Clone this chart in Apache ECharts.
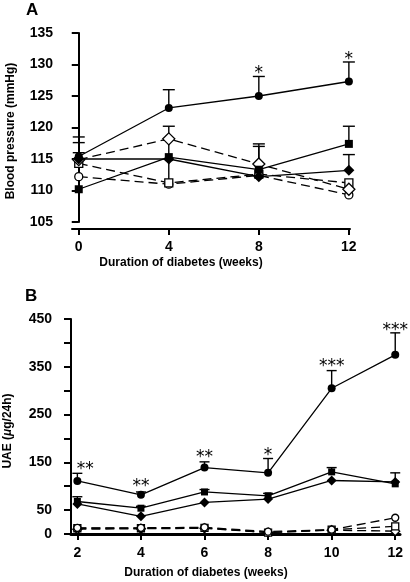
<!DOCTYPE html>
<html><head><meta charset="utf-8">
<script src="https://cdn.jsdelivr.net/npm/echarts@6/dist/echarts.min.js"></script>
<style>html,body{margin:0;padding:0;background:#fff}#c{width:410px;height:582px}</style>
</head><body><div id="c"></div>
<script>
// Panel A: blood pressure
const bpWeeks = [0, 4, 8, 12];
const bpTicks = [0, 4, 8, 12];
const bpFilledCircle = [115.4, 123.1, 125.0, 127.3];
const bpFilledCircleSE = [118.5, 126.0, 128.1, 130.4];
const bpFilledSquare = [110.2, 115.3, 113.3, 117.4];
const bpFilledSquareSE = [null, null, 117.0, 120.2];
const bpFilledDiamond = [115.0, 115.0, 112.2, 113.2];
const bpFilledDiamondSE = [116.0, null, null, 115.7];
const bpOpenDiamond = [114.9, 118.2, 114.2, 110.2];
const bpOpenDiamondSE = [117.6, 120.2, 117.4, null];
const bpOpenSquare = [114.3, 111.2, 112.6, 111.2];
const bpOpenSquareSE = [null, 118.0, null, null];
const bpOpenCircle = [112.2, 111.0, 112.4, 109.3];
const bpStarX = [8, 12];
const bpStarY = [129.4, 131.5];
const bpStarText = ['*', '*'];

// Panel B: UAE
const uaeWeeks = [2, 4, 6, 8, 10, 12];
const uaeTicks = [2, 4, 6, 8, 10, 12];
const uaeFilledCircle = [111, 82, 139, 128, 305, 375];
const uaeFilledCircleSE = [127, 88, 151, 158, 342, 421];
const uaeFilledSquare = [68, 54, 88, 80, 130, 105];
const uaeFilledSquareSE = [78, 58, 93, 85, 139, 128];
const uaeFilledDiamond = [63, 37, 66, 73, 112, 109];
const uaeOpenCircle = [13, 13, 14, 5, 9, 34];
const uaeOpenSquare = [12, 12, 13, 3, 9, 16];
const uaeOpenDiamond = [10, 11, 12, 3, 8, 6];
const uaeStarX = [2.25, 4, 6, 8, 10, 12];
const uaeStarY = [146, 109, 170, 174, 360, 437];
const uaeStarText = ['**', '**', '**', '*', '***', '***'];

const FONT = '"Liberation Sans", Arial, sans-serif';
const chart = echarts.init(document.getElementById('c'), null, {renderer: 'canvas'});

function pairs(xs, ys) { return xs.map((x, i) => [x, ys[i]]); }

function lineSeries(idx, xs, ys, symbol, size, filled, dashed) {
  return {
    type: 'line', xAxisIndex: idx, yAxisIndex: idx, data: pairs(xs, ys),
    symbol: symbol, symbolSize: size, showAllSymbol: true, z: filled ? 4 : 3,
    lineStyle: {color: '#000', width: 1.3, type: dashed ? [9, 5] : 'solid'},
    itemStyle: {color: filled ? '#000' : '#fff', borderColor: '#000', borderWidth: filled ? 0 : 1.3},
    animation: false
  };
}

function errSeries(idx, xs, means, tops, cap) {
  const data = [];
  xs.forEach((x, i) => { if (tops[i] != null) data.push([x, means[i], tops[i]]); });
  return {
    type: 'custom', xAxisIndex: idx, yAxisIndex: idx, data: data, z: 2,
    encode: {x: 0, y: [1, 2]}, animation: false,
    renderItem: function (params, api) {
      const p0 = api.coord([api.value(0), api.value(1)]);
      const p1 = api.coord([api.value(0), api.value(2)]);
      const st = {stroke: '#000', lineWidth: 1.4};
      return {type: 'group', children: [
        {type: 'line', shape: {x1: p0[0], y1: p0[1], x2: p1[0], y2: p1[1]}, style: st},
        {type: 'line', shape: {x1: p1[0] - cap, y1: p1[1], x2: p1[0] + cap, y2: p1[1]}, style: st}
      ]};
    }
  };
}

function starSeries(idx, xs, ys, texts) {
  return {
    type: 'custom', xAxisIndex: idx, yAxisIndex: idx, data: pairs(xs, ys), z: 5,
    animation: false,
    renderItem: function (params, api) {
      const p = api.coord([api.value(0), api.value(1)]);
      return {type: 'text', x: p[0], y: p[1] + 5, style: {
        text: texts[params.dataIndex], fill: '#000', font: '17px "DejaVu Sans", sans-serif',
        textAlign: 'center', textVerticalAlign: 'middle'}};
    }
  };
}

const axisLbl = {color: '#000', fontFamily: FONT, fontWeight: 'bold', fontSize: 14};

const option = {
  backgroundColor: '#fff',
  animation: false,
  grid: [
    {left: 72, top: 33, width: 278, height: 189},
    {left: 71, top: 319, width: 329, height: 215}
  ],
  xAxis: [
    {type: 'value', gridIndex: 0, min: -0.3, max: 12.05, offset: 7,
     axisLine: {lineStyle: {color: '#000', width: 2}},
     axisTick: {show: true, length: 6, lineStyle: {color: '#000', width: 2}, customValues: bpTicks},
     axisLabel: Object.assign({margin: 11, customValues: bpTicks}, axisLbl),
     splitLine: {show: false}},
    {type: 'value', gridIndex: 1, min: 1.8, max: 12.15,
     axisLine: {onZero: false, lineStyle: {color: '#000', width: 3}},
     axisTick: {show: true, length: 6, lineStyle: {color: '#000', width: 2}, customValues: uaeTicks},
     axisLabel: Object.assign({margin: 12, customValues: uaeTicks}, axisLbl),
     splitLine: {show: false}}
  ],
  yAxis: [
    {type: 'value', gridIndex: 0, min: 105, max: 135, interval: 5,
     axisLine: {show: true, lineStyle: {color: '#000', width: 2}},
     axisTick: {show: true, length: 7, lineStyle: {color: '#000', width: 2}},
     axisLabel: Object.assign({margin: 19}, axisLbl),
     splitLine: {show: false}},
    {type: 'value', gridIndex: 1, min: 0, max: 450, interval: 50,
     axisLine: {show: true, lineStyle: {color: '#000', width: 2}},
     axisTick: {show: true, length: 7, lineStyle: {color: '#000', width: 2}},
     axisLabel: Object.assign({margin: 19, formatter: v => ((v / 50) % 2 === 1 || v === 0) ? String(v) : ''}, axisLbl),
     splitLine: {show: false}}
  ],
  graphic: [
    {type: 'text', left: 26, top: 2, style: {text: 'A', font: 'bold 17px ' + FONT, fill: '#000'}},
    {type: 'text', left: 25, top: 288, style: {text: 'B', font: 'bold 17px ' + FONT, fill: '#000'}},
    {type: 'text', x: 181, y: 263, style: {text: 'Duration of diabetes (weeks)', font: 'bold 12px ' + FONT, fill: '#000', textAlign: 'center', textVerticalAlign: 'middle'}},
    {type: 'text', x: 206, y: 573, style: {text: 'Duration of diabetes (weeks)', font: 'bold 12px ' + FONT, fill: '#000', textAlign: 'center', textVerticalAlign: 'middle'}},
    {type: 'text', x: 11, y: 131, rotation: Math.PI / 2, style: {text: 'Blood pressure (mmHg)', font: 'bold 12px ' + FONT, fill: '#000', textAlign: 'center', textVerticalAlign: 'middle'}},
    {type: 'text', x: 8, y: 431, rotation: Math.PI / 2, style: {rich: {n: {font: 'bold 12px ' + FONT, fill: '#000'}, i: {font: 'italic bold 12px ' + FONT, fill: '#000'}}, text: '{n|UAE (}{i|μ}{n|g/24h)}', textAlign: 'center', textVerticalAlign: 'middle'}}
  ],
  series: [
    errSeries(0, bpWeeks, bpFilledCircle, bpFilledCircleSE, 6),
    errSeries(0, bpWeeks, bpFilledSquare, bpFilledSquareSE, 6),
    errSeries(0, bpWeeks, bpFilledDiamond, bpFilledDiamondSE, 6),
    errSeries(0, bpWeeks, bpOpenDiamond, bpOpenDiamondSE, 6),
    errSeries(0, bpWeeks, bpOpenSquare, bpOpenSquareSE, 6),
    lineSeries(0, bpWeeks, bpOpenCircle, 'circle', 8, false, true),
    lineSeries(0, bpWeeks, bpOpenSquare, 'rect', 8, false, true),
    lineSeries(0, bpWeeks, bpOpenDiamond, 'diamond', 12, false, true),
    lineSeries(0, bpWeeks, bpFilledDiamond, 'diamond', 11, true, false),
    lineSeries(0, bpWeeks, bpFilledSquare, 'rect', 8, true, false),
    lineSeries(0, bpWeeks, bpFilledCircle, 'circle', 8, true, false),
    starSeries(0, bpStarX, bpStarY, bpStarText),

    errSeries(1, uaeWeeks, uaeFilledCircle, uaeFilledCircleSE, 5),
    errSeries(1, uaeWeeks, uaeFilledSquare, uaeFilledSquareSE, 5),
    lineSeries(1, uaeWeeks, uaeOpenDiamond, 'diamond', 9, false, true),
    lineSeries(1, uaeWeeks, uaeOpenSquare, 'rect', 7, false, true),
    lineSeries(1, uaeWeeks, uaeOpenCircle, 'circle', 7, false, true),
    lineSeries(1, uaeWeeks, uaeFilledDiamond, 'diamond', 10, true, false),
    lineSeries(1, uaeWeeks, uaeFilledSquare, 'rect', 7, true, false),
    lineSeries(1, uaeWeeks, uaeFilledCircle, 'circle', 8, true, false),
    starSeries(1, uaeStarX, uaeStarY, uaeStarText)
  ]
};
chart.setOption(option);
</script></body></html>
